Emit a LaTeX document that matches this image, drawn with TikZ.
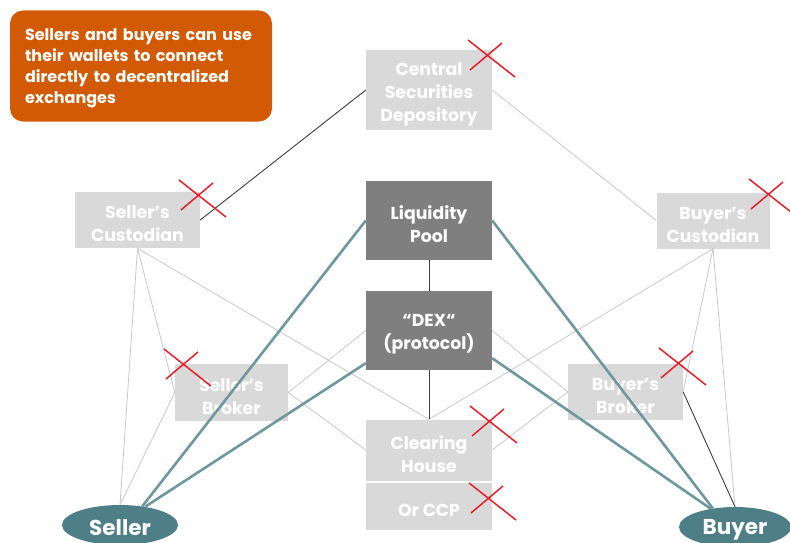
\documentclass[tikz,border=0pt]{standalone}
\usepackage{fontspec}
\setmainfont{Poppins}
\usetikzlibrary{calc,shapes.geometric}
\definecolor{orangebox}{RGB}{210,90,5}
\definecolor{lightfill}{RGB}{217,217,217}
\definecolor{darkfill}{RGB}{127,127,127}
\definecolor{tealfill}{RGB}{78,126,134}
\definecolor{tealline}{RGB}{108,152,158}
\definecolor{greyline}{RGB}{200,200,200}
\definecolor{darkline}{RGB}{60,60,60}
\definecolor{crossred}{RGB}{232,30,40}
\newcommand\RedCross[1]{\draw[crossline] ($#1+(-22,-18)$) -- ($#1+(25,19)$) ($#1+(12,-15)$) -- ($#1+(-20,12)$);}
\begin{document}
\begin{tikzpicture}[x=1pt,y=-1pt,
  box/.style={rectangle, inner sep=0pt},
  boxtext/.style={inner sep=0pt, align=center, text=white, yshift=-4pt, font=\bfseries\fontsize{17.3}{23}\selectfont},
  greybox/.style={box, fill=lightfill},
  darkbox/.style={box, fill=darkfill},
  party/.style={ellipse, fill=tealfill, inner sep=0pt},
  partytext/.style={inner sep=0pt, text=white, yshift=-3pt, font=\bfseries\fontsize{21.5}{24}\selectfont},
  callout/.style={rectangle, rounded corners=13pt, fill=orangebox, inner sep=0pt},
  callouttext/.style={inner sep=0pt, text=white, align=left, text width=232pt, yshift=-2pt, font=\bfseries\fontsize{16}{21}\selectfont},
  thin/.style={draw=greyline, line width=0.8pt},
  blackline/.style={draw=darkline, line width=0.9pt},
  tealconn/.style={draw=tealline, line width=2.6pt},
  crossline/.style={draw=crossred, line width=1.5pt}
]
\useasboundingbox (0,0) rectangle (790,543);

% nodes
\node[callout, minimum width=262pt, minimum height=111pt, label={[callouttext]center:{Sellers and buyers can use\\their wallets to connect\\directly to decentralized\\exchanges}}] (note) at (141,66) {};

\node[greybox, minimum width=126pt, minimum height=80pt, label={[boxtext]center:{Central\\Securities\\Depository}}] (CSD) at (429,90) {};
\node[greybox, minimum width=125pt, minimum height=56pt, label={[boxtext]center:{Seller's\\Custodian}}] (SC) at (137.5,220) {};
\node[greybox, minimum width=113pt, minimum height=56pt, label={[boxtext]center:{Buyer's\\Custodian}}] (BC) at (713,220.5) {};
\node[darkbox, minimum width=126pt, minimum height=79pt, label={[boxtext]center:{Liquidity\\Pool}}] (LP) at (429,220.5) {};
\node[darkbox, minimum width=126pt, minimum height=79pt, label={[boxtext]center:{“DEX“\\(protocol)}}] (DEX) at (429,330.5) {};
\node[greybox, minimum width=113pt, minimum height=57pt, label={[boxtext]center:{Seller's\\Broker}}] (SB) at (231.5,392.5) {};
\node[greybox, minimum width=115pt, minimum height=56pt, label={[boxtext]center:{Buyer's\\Broker}}] (BB) at (625.5,392) {};
\node[greybox, minimum width=126pt, minimum height=61pt, label={[boxtext]center:{Clearing\\House}}] (CH) at (429,450) {};
\node[greybox, minimum width=126pt, minimum height=47pt, label={[boxtext]center:{Or CCP}}] (CCP) at (429,506.5) {};
\node[party, minimum width=116pt, minimum height=40pt, label={[partytext]center:Seller}] (Seller) at (120,525) {};
\node[party, minimum width=112pt, minimum height=40pt, label={[partytext]center:Buyer}] (Buyer) at (735,527) {};

% thin connectors
\draw[thin] (CSD.east) -- (BC.west);
\draw[thin] (SC.south) -- (Seller.north);
\draw[thin] (SC.south) -- (SB.west);
\draw[thin] (SB.west) -- (Seller.north);
\draw[thin] (SC.south) -- (CH.north);
\draw[thin] (BC.south) -- (CH.north);
\draw[thin] (BC.south) -- (Buyer.north);
\draw[thin] (BC.south) -- (BB.east);
\draw[thin] (DEX.west) -- (SB.east);
\draw[thin] (SB.east) -- (CH.west);
\draw[thin] (DEX.east) -- (BB.west);
\draw[thin] (BB.west) -- (CH.east);
\draw[blackline] (CSD.west) -- (SC.east);
\draw[blackline] (LP.south) -- (DEX.north);
\draw[blackline] (DEX.south) -- (CH.north);
\draw[blackline] (BB.east) -- (Buyer.north);

% teal connectors
\draw[tealconn] (Seller.40) -- (LP.west);
\draw[tealconn] (Seller.36) -- ($(DEX.south west)+(0,-7)$);
\draw[tealconn] (Buyer.140) -- (LP.east);
\draw[tealconn] (Buyer.143) -- ($(DEX.south east)+(0,-12)$);

% red crosses
\RedCross{(490,58)}
\RedCross{(201,198)}
\RedCross{(771,197)}
\RedCross{(186,367)}
\RedCross{(681,366)}
\RedCross{(492,424)}
\RedCross{(491,501)}
\end{tikzpicture}
\end{document}
